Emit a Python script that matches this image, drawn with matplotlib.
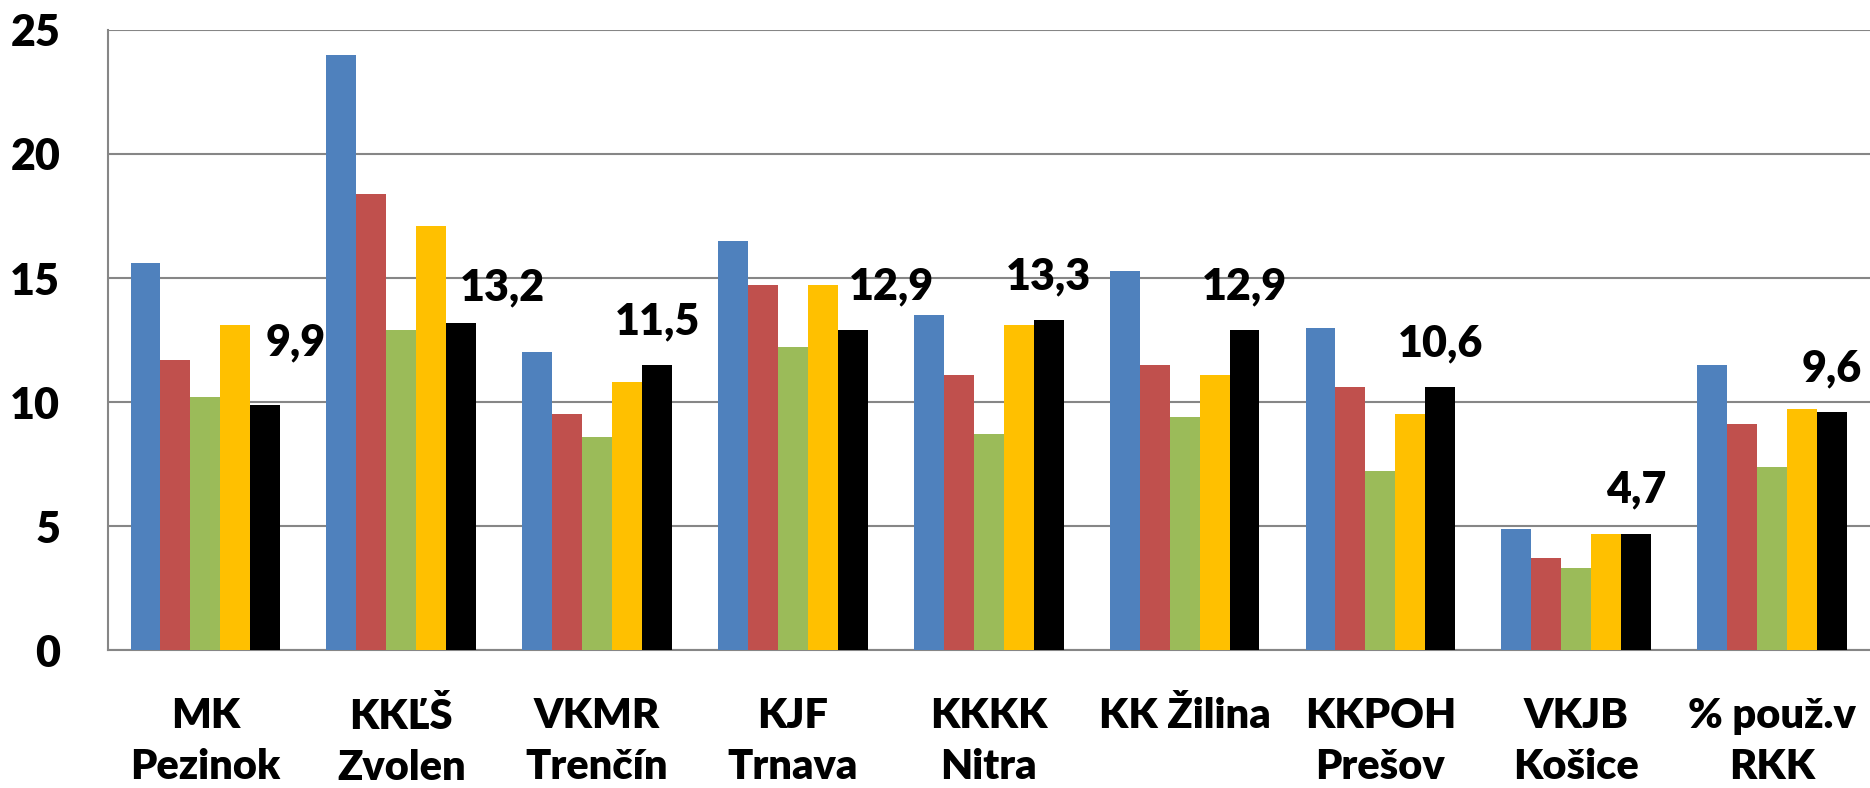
import matplotlib
matplotlib.use("Agg")
import matplotlib.pyplot as plt
import numpy as np

plt.rcParams["font.family"] = ["Lato", "DejaVu Sans"]
plt.rcParams["font.weight"] = "heavy"

categories = [
    "MK\nPezinok",
    "KKĽŠ\nZvolen",
    "VKMR\nTrenčín",
    "KJF\nTrnava",
    "KKKK\nNitra",
    "KK Žilina",
    "KKPOH\nPrešov",
    "VKJB\nKošice",
    "% použ.v\nRKK",
]

series_1 = [15.6, 24.0, 12.0, 16.5, 13.5, 15.3, 13.0, 4.9, 11.5]
series_2 = [11.7, 18.4, 9.5, 14.7, 11.1, 11.5, 10.6, 3.7, 9.1]
series_3 = [10.2, 12.9, 8.6, 12.2, 8.7, 9.4, 7.2, 3.3, 7.4]
series_4 = [13.1, 17.1, 10.8, 14.7, 13.1, 11.1, 9.5, 4.7, 9.7]
series_5 = [9.9, 13.2, 11.5, 12.9, 13.3, 12.9, 10.6, 4.7, 9.6]

colors = ["#4F81BD", "#C0504D", "#9BBB59", "#FFC000", "#000000"]

# manual nudges (points) for labels that were dragged in the original
label_nudge = {0: (22, 13), 1: (30, -6), 3: (28, 0)}


def main() -> None:
    fig = plt.figure(figsize=(18.7, 7.88), dpi=100)
    ax = fig.add_axes([0.0575, 0.175, 0.9425, 0.787])

    all_series = [series_1, series_2, series_3, series_4, series_5]
    x = np.arange(len(categories))
    width = 0.153
    offsets = (np.arange(5) - 2) * width
    bars_last = None
    for vals, off, col in zip(all_series, offsets, colors):
        bars_last = ax.bar(x + off, vals, width=width, color=col, zorder=3)

    for i, (rect, val) in enumerate(zip(bars_last, series_5)):
        dx, dy = label_nudge.get(i, (0, 0))
        ax.annotate(
            f"{val:.1f}".replace(".", ","),
            (rect.get_x() + rect.get_width() / 2, rect.get_height()),
            xytext=(dx, 17 + dy),
            textcoords="offset points",
            ha="center",
            va="bottom",
            fontsize=31,
            fontweight="heavy",
            zorder=4,
        )

    ax.set_xlim(-0.5, len(categories) - 0.5)
    ax.set_ylim(0, 25)
    ax.set_yticks(np.arange(0, 26, 5))
    ax.set_xticks(x)
    ax.set_xticklabels(categories, fontsize=30, fontweight="heavy", linespacing=1.4)
    ax.tick_params(axis="y", labelsize=31, length=0, pad=34)
    ax.tick_params(axis="x", length=0, pad=34)
    ax.grid(True, axis="y", color="#868686", linewidth=1.5, zorder=0)
    for side in ["top", "right"]:
        ax.spines[side].set_visible(False)
    for side in ["left", "bottom"]:
        ax.spines[side].set_color("#868686")
        ax.spines[side].set_linewidth(1.5)

    fig.savefig("out.png", dpi=100)
    plt.close(fig)


if __name__ == "__main__":
    main()
